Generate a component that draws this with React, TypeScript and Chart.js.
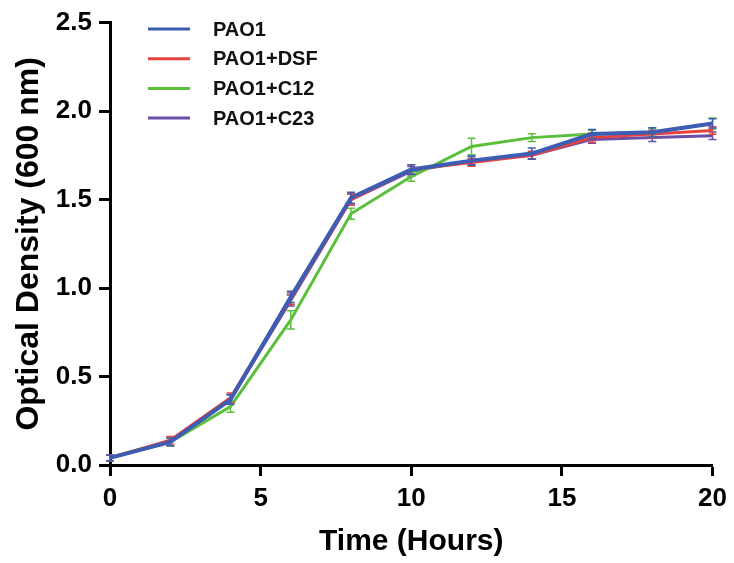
import React, { useEffect, useRef } from "react";
import { Chart, registerables } from "chart.js";

Chart.register(...registerables);

const hours = [0, 2, 4, 6, 8, 10, 12, 14, 16, 18, 20];
const seriesNames = ["PAO1", "PAO1+DSF", "PAO1+C12", "PAO1+C23"];
const pao1 = [0.04, 0.13, 0.37, 0.95, 1.51, 1.67, 1.72, 1.76, 1.87, 1.88, 1.93];
const pao1Dsf = [0.04, 0.14, 0.38, 0.94, 1.50, 1.67, 1.71, 1.75, 1.85, 1.87, 1.89];
const pao1C12 = [0.04, 0.13, 0.33, 0.82, 1.42, 1.63, 1.80, 1.85, 1.87, 1.88, 1.93];
const pao1C23 = [0.04, 0.13, 0.37, 0.93, 1.50, 1.66, 1.72, 1.75, 1.84, 1.85, 1.86];
const pao1Err = [0.005, 0.01, 0.015, 0.02, 0.02, 0.015, 0.015, 0.02, 0.015, 0.015, 0.015];
const pao1DsfErr = [0.005, 0.01, 0.015, 0.02, 0.02, 0.015, 0.01, 0.01, 0.015, 0.01, 0.01];
const pao1C12Err = [0.005, 0.01, 0.02, 0.04, 0.02, 0.015, 0.035, 0.01, 0.01, 0.01, 0.02];
const pao1C23Err = [0.005, 0.01, 0.015, 0.02, 0.02, 0.015, 0.01, 0.01, 0.01, 0.01, 0.01];
const colors = ["#3d5db3", "#e8423f", "#5cbf3c", "#6b4ea6"];
const xTicks = [0, 5, 10, 15, 20];
const yTicks = [0, 0.5, 1.0, 1.5, 2.0, 2.5];

const FONT = "'Liberation Sans', Arial, Helvetica, sans-serif";

const errorBarPlugin = {
  id: "errorBars",
  afterDatasetDraw(chart: any, args: any) {
    const ds = chart.data.datasets[args.index] as any;
    const errs: number[] = ds.errors;
    if (!errs) return;
    const xs = chart.scales.x;
    const ys = chart.scales.y;
    const ctx = chart.ctx;
    ctx.save();
    ctx.strokeStyle = ds.borderColor;
    ctx.lineWidth = 1.5;
    ds.data.forEach((p: any, i: number) => {
      const px = xs.getPixelForValue(p.x);
      const top = ys.getPixelForValue(p.y + errs[i]) - 2;
      const bot = ys.getPixelForValue(p.y - errs[i]) + 2;
      ctx.beginPath();
      ctx.moveTo(px, top);
      ctx.lineTo(px, bot);
      ctx.moveTo(px - 4, top);
      ctx.lineTo(px + 4, top);
      ctx.moveTo(px - 4, bot);
      ctx.lineTo(px + 4, bot);
      ctx.stroke();
    });
    ctx.restore();
  },
};

const legendPlugin = {
  id: "customLegend",
  afterDraw(chart: any) {
    const ctx = chart.ctx;
    ctx.save();
    ctx.font = `bold 20px ${FONT}`;
    ctx.textBaseline = "middle";
    seriesNames.forEach((name, i) => {
      const y = 29 + i * 29.7;
      ctx.strokeStyle = colors[i];
      ctx.lineWidth = 3;
      ctx.beginPath();
      ctx.moveTo(148, y);
      ctx.lineTo(190, y);
      ctx.stroke();
      ctx.fillStyle = "#111";
      ctx.fillText(name, 213, y + 1);
    });
    ctx.restore();
  },
};

export default function App() {
  const ref = useRef<HTMLCanvasElement>(null);
  useEffect(() => {
    if (!ref.current) return;
    const mk = (vals: number[]) => hours.map((h, i) => ({ x: h, y: vals[i] }));
    const allVals = [pao1, pao1Dsf, pao1C12, pao1C23];
    const allErr = [pao1Err, pao1DsfErr, pao1C12Err, pao1C23Err];
    const chart = new Chart(ref.current, {
      type: "line",
      data: {
        datasets: seriesNames.map((name, i) => ({
          label: name,
          data: mk(allVals[i]),
          errors: allErr[i],
          borderColor: colors[i],
          backgroundColor: colors[i],
          borderWidth: i === 0 ? 4 : 3,
          pointRadius: 0,
          tension: 0,
        })) as any,
      },
      options: {
        animation: false,
        responsive: false,
        devicePixelRatio: 1,
        layout: { padding: { left: 10, top: 22, right: 21, bottom: 3 } },
        plugins: { legend: { display: false }, tooltip: { enabled: false } },
        scales: {
          x: {
            type: "linear",
            min: 0,
            max: 20,
            afterBuildTicks: (s: any) => {
              s.ticks = xTicks.map((v) => ({ value: v }));
            },
            afterFit: (s: any) => {
              s.height = 563 - 465 - 3;
            },
            grid: { drawOnChartArea: false, drawTicks: true, tickLength: 11, tickWidth: 3, color: "#000" },
            border: { display: true, width: 3, color: "#000" },
            ticks: { color: "#000", font: { family: FONT, size: 26, weight: "bold" }, padding: 7, maxRotation: 0 },
            title: {
              display: true,
              text: "Time (Hours)",
              color: "#000",
              font: { family: FONT, size: 30, weight: "bold" },
              padding: { top: 0, bottom: 0 },
            },
          },
          y: {
            type: "linear",
            min: 0,
            max: 2.5,
            afterBuildTicks: (s: any) => {
              s.ticks = yTicks.map((v) => ({ value: v }));
            },
            afterFit: (s: any) => {
              s.width = 110 - 10;
            },
            grid: { drawOnChartArea: false, drawTicks: true, tickLength: 11, tickWidth: 3, color: "#000" },
            border: { display: true, width: 3, color: "#000" },
            ticks: {
              color: "#000",
              font: { family: FONT, size: 26, weight: "bold" },
              padding: 7,
              callback: (v: any) => Number(v).toFixed(1),
            },
            title: {
              display: true,
              text: "Optical Density (600 nm)",
              color: "#000",
              font: { family: FONT, size: 32, weight: "bold" },
              padding: { top: 0, bottom: 0 },
            },
          },
        },
      } as any,
      plugins: [errorBarPlugin, legendPlugin],
    });
    return () => chart.destroy();
  }, []);
  return (
    <div style={{ position: "fixed", left: 0, top: 0, width: 734, height: 563, background: "#fff" }}>
      <canvas ref={ref} width={734} height={563} style={{ width: 734, height: 563 }} />
    </div>
  );
}
